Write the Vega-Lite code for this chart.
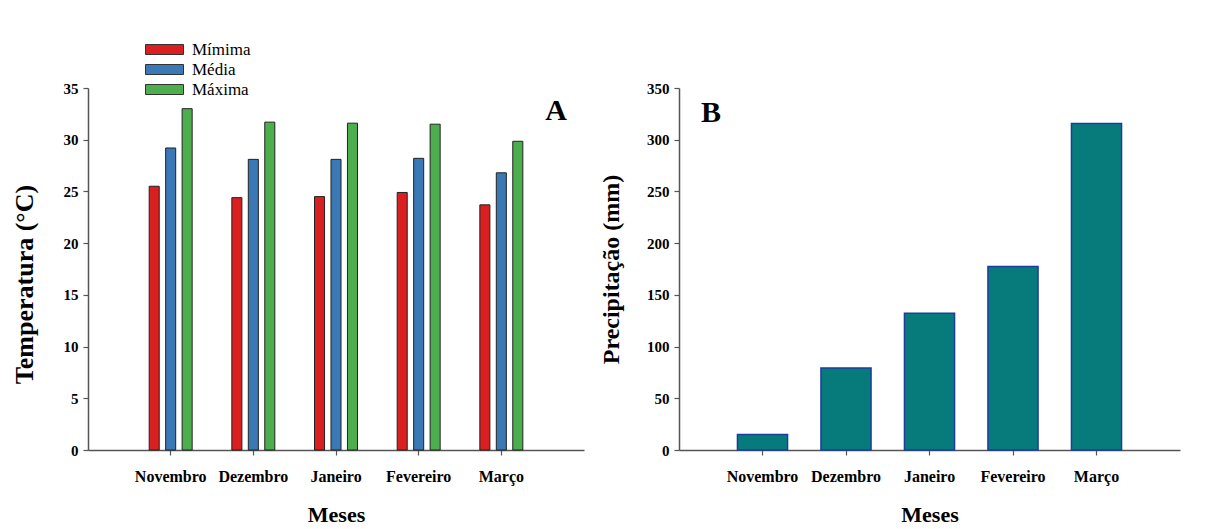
{
  "$schema": "https://vega.github.io/schema/vega-lite/v6.json",
  "padding": {"left": 11, "top": 41, "right": 5, "bottom": 5},
  "spacing": 15,
  "config": {
    "font": "Liberation Serif",
    "view": {"stroke": null},
    "axis": {
      "labelFont": "Liberation Serif", "titleFont": "Liberation Serif",
      "labelFontWeight": "bold", "titleFontWeight": "bold",
      "labelColor": "#000", "titleColor": "#000",
      "domainColor": "#555", "tickColor": "#555",
      "domainWidth": 1.5, "tickWidth": 1.2, "tickSize": 5, "grid": false
    },
    "axisX": {"labelFontSize": 16, "titleFontSize": 22, "labelAngle": 0, "labelPadding": 13, "titlePadding": 20},
    "axisY": {"labelFontSize": 15, "titleFontSize": 24, "labelPadding": 5}
  },
  "hconcat": [
    {
      "width": 496, "height": 362,
      "title": {"text": "A", "anchor": "end", "frame": "group", "fontSize": 30, "font": "Liberation Serif", "fontWeight": "bold", "color": "#000", "dx": -17, "dy": 69, "offset": 0, "baseline": "alphabetic"},
      "data": {"values": [
        {"Mes": "Novembro", "Tipo": "Mímima", "Temperatura": 25.5},
        {"Mes": "Novembro", "Tipo": "Média", "Temperatura": 29.2},
        {"Mes": "Novembro", "Tipo": "Máxima", "Temperatura": 33.0},
        {"Mes": "Dezembro", "Tipo": "Mímima", "Temperatura": 24.4},
        {"Mes": "Dezembro", "Tipo": "Média", "Temperatura": 28.1},
        {"Mes": "Dezembro", "Tipo": "Máxima", "Temperatura": 31.7},
        {"Mes": "Janeiro", "Tipo": "Mímima", "Temperatura": 24.5},
        {"Mes": "Janeiro", "Tipo": "Média", "Temperatura": 28.1},
        {"Mes": "Janeiro", "Tipo": "Máxima", "Temperatura": 31.6},
        {"Mes": "Fevereiro", "Tipo": "Mímima", "Temperatura": 24.9},
        {"Mes": "Fevereiro", "Tipo": "Média", "Temperatura": 28.2},
        {"Mes": "Fevereiro", "Tipo": "Máxima", "Temperatura": 31.5},
        {"Mes": "Março", "Tipo": "Mímima", "Temperatura": 23.7},
        {"Mes": "Março", "Tipo": "Média", "Temperatura": 26.8},
        {"Mes": "Março", "Tipo": "Máxima", "Temperatura": 29.85}
      ]},
      "mark": {"type": "bar", "stroke": "#222", "strokeWidth": 1},
      "encoding": {
        "x": {"field": "Mes", "type": "nominal", "sort": ["Novembro", "Dezembro", "Janeiro", "Fevereiro", "Março"],
              "scale": {"paddingInner": 0.48, "paddingOuter": 0.74}, "axis": {"title": "Meses"}},
        "xOffset": {"field": "Tipo", "type": "nominal", "sort": ["Mímima", "Média", "Máxima"],
                    "scale": {"paddingInner": 0.39, "paddingOuter": 0}},
        "y": {"field": "Temperatura", "type": "quantitative", "scale": {"domain": [0, 35], "nice": false},
              "axis": {"title": "Temperatura (°C)", "values": [0, 5, 10, 15, 20, 25, 30, 35], "titlePadding": 26, "titleFontSize": 26, "titleY": 196}},
        "color": {"field": "Tipo", "type": "nominal", "sort": ["Mímima", "Média", "Máxima"],
                  "scale": {"domain": ["Mímima", "Média", "Máxima"], "range": ["#d91f1f", "#3a78b6", "#4cae4c"]},
                  "legend": {"orient": "none", "legendX": 68, "legendY": -47, "title": null,
                             "symbolType": "M-3.8,-1H3.8V1H-3.8Z", "symbolSize": 100,
                             "symbolStrokeColor": "#333", "symbolStrokeWidth": 1,
                             "labelFont": "Liberation Serif", "labelFontSize": 17, "labelColor": "#000",
                             "labelOffset": 19, "rowPadding": 2}}
      }
    },
    {
      "width": 501, "height": 362,
      "title": {"text": "B", "anchor": "start", "frame": "group", "fontSize": 30, "font": "Liberation Serif", "fontWeight": "bold", "color": "#000", "dx": 22, "dy": 71, "offset": 0, "baseline": "alphabetic"},
      "data": {"values": [
        {"Mes": "Novembro", "Precipitacao": 15},
        {"Mes": "Dezembro", "Precipitacao": 79.4},
        {"Mes": "Janeiro", "Precipitacao": 132.2},
        {"Mes": "Fevereiro", "Precipitacao": 177.3},
        {"Mes": "Março", "Precipitacao": 315.6}
      ]},
      "mark": {"type": "bar", "fill": "#077b7b", "stroke": "#1d3c9e", "strokeWidth": 1.5},
      "encoding": {
        "x": {"field": "Mes", "type": "nominal", "sort": ["Novembro", "Dezembro", "Janeiro", "Fevereiro", "Março"],
              "scale": {"paddingInner": 0.4, "paddingOuter": 0.7}, "axis": {"title": "Meses"}},
        "y": {"field": "Precipitacao", "type": "quantitative", "scale": {"domain": [0, 350], "nice": false},
              "axis": {"title": "Precipitação (mm)", "values": [0, 50, 100, 150, 200, 250, 300, 350], "titlePadding": 23}}
      }
    }
  ]
}
